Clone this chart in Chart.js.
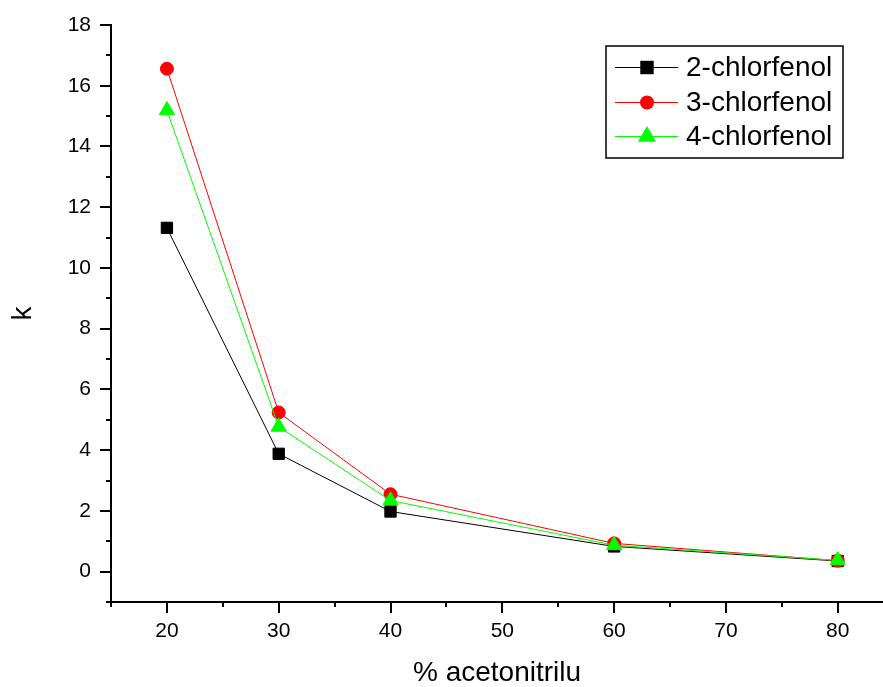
<!DOCTYPE html>
<html>
<head>
<meta charset="utf-8">
<script src="https://cdn.jsdelivr.net/npm/chart.js@4"></script>
<style>
  html, body { margin: 0; padding: 0; background: #fff; overflow: hidden; }
  #wrap { width: 883px; height: 687px; position: relative; }
</style>
</head>
<body>
<div id="wrap"><canvas id="chart"></canvas></div>
<script>
// ---- data ----
const xValues = [20, 30, 40, 60, 80];
const k2 = [11.32, 3.88, 1.98, 0.83, 0.35];
const k3 = [16.56, 5.24, 2.55, 0.93, 0.36];
const k4 = [15.19, 4.77, 2.34, 0.87, 0.37];
const seriesNames = ["2-chlorfenol", "3-chlorfenol", "4-chlorfenol"];
const xTickValues = [15, 20, 25, 30, 35, 40, 45, 50, 55, 60, 65, 70, 75, 80];

const FONT = 'Arial, "Liberation Sans", sans-serif';

function pts(ys) {
  return xValues.map((x, i) => ({ x: x, y: ys[i] }));
}

// no extra padding from tick labels, plot box is fixed
function noPad(scale) {
  scale.paddingTop = 0;
  scale.paddingBottom = 0;
  scale.paddingLeft = 0;
  scale.paddingRight = 0;
}

// ticks (major / minor) like the Origin plot
const tickPlugin = {
  id: "ticks",
  afterDraw(chart) {
    const ctx = chart.ctx;
    const xs = chart.scales.x, ys = chart.scales.y;
    const a = chart.chartArea;
    ctx.save();
    ctx.strokeStyle = "#000";
    ctx.lineWidth = 2;
    for (const t of xs.ticks) {
      const px = Math.round(xs.getPixelForValue(t.value));
      const len = t.value % 10 === 0 ? 11 : 5;
      ctx.beginPath();
      ctx.moveTo(px, a.bottom);
      ctx.lineTo(px, a.bottom + len);
      ctx.stroke();
    }
    for (const t of ys.ticks) {
      const py = Math.round(ys.getPixelForValue(t.value));
      const len = (t.value % 2 === 0) ? 11 : 5;
      ctx.beginPath();
      ctx.moveTo(a.left, py);
      ctx.lineTo(a.left - len, py);
      ctx.stroke();
    }
    ctx.restore();
  }
};

// legend box inside the plot, top right (markers a bit bigger than in the plot)
const legendPlugin = {
  id: "boxLegend",
  afterDraw(chart) {
    const ctx = chart.ctx;
    const bx = 606, by = 46, bw = 237, bh = 112;
    ctx.save();
    ctx.fillStyle = "#fff";
    ctx.fillRect(bx, by, bw, bh);
    ctx.strokeStyle = "#000";
    ctx.lineWidth = 1.5;
    ctx.strokeRect(bx, by, bw, bh);
    const rows = [67.5, 102.5, 136.5];
    const legendRadius = [9.5, 7, 10.5];
    [0, 1, 2].forEach((di, r) => {
      const ds = chart.data.datasets[di];
      const y = rows[r];
      ctx.strokeStyle = ds.borderColor;
      ctx.lineWidth = 1;
      ctx.beginPath();
      ctx.moveTo(615, y);
      ctx.lineTo(678, y);
      ctx.stroke();
      ctx.fillStyle = ds.pointBackgroundColor;
      ctx.strokeStyle = ds.pointBackgroundColor;
      Chart.helpers.drawPoint(ctx, {
        pointStyle: ds.pointStyle,
        radius: legendRadius[r],
        borderWidth: 0,
        rotation: 0
      }, 647, y);
      ctx.fillStyle = "#000";
      ctx.font = "28px " + FONT;
      ctx.textBaseline = "middle";
      ctx.textAlign = "left";
      ctx.fillText(ds.label, 686, y + 1);
    });
    ctx.restore();
  }
};

new Chart(document.getElementById("chart"), {
  type: "line",
  data: {
    datasets: [
      {
        label: seriesNames[0], data: pts(k2),
        borderColor: "#000000", pointBackgroundColor: "#000000", pointBorderColor: "#000000",
        pointStyle: "rect", pointRadius: 8, borderWidth: 1, order: 3
      },
      {
        label: seriesNames[1], data: pts(k3),
        borderColor: "#ff0000", pointBackgroundColor: "#ff0000", pointBorderColor: "#ff0000",
        pointStyle: "circle", pointRadius: 6.5, borderWidth: 1, order: 2
      },
      {
        label: seriesNames[2], data: pts(k4),
        borderColor: "#00ff00", pointBackgroundColor: "#00ff00", pointBorderColor: "#00ff00",
        pointStyle: "triangle", pointRadius: 8.8, borderWidth: 1, order: 1
      }
    ]
  },
  options: {
    responsive: true,
    maintainAspectRatio: false,
    animation: false,
    layout: { autoPadding: false, padding: { top: 25, right: 0, left: 0, bottom: 0 } },
    elements: {
      line: { tension: 0, fill: false },
      point: { borderWidth: 0, hoverRadius: 8 }
    },
    plugins: {
      legend: { display: false },
      tooltip: { enabled: false }
    },
    scales: {
      x: {
        type: "linear",
        bounds: "data",
        min: 15,
        max: 84.05,
        afterBuildTicks(scale) {
          scale.ticks = xTickValues.map(v => ({ value: v }));
        },
        afterFit(scale) { scale.height = 85; noPad(scale); },
        ticks: {
          autoSkip: false,
          maxRotation: 0,
          padding: 17,
          color: "#000",
          font: { family: FONT, size: 21 },
          callback: v => (v % 10 === 0 ? String(v) : "")
        },
        grid: { display: true, drawOnChartArea: false, drawTicks: false },
        border: { display: true, color: "#000", width: 2 },
        title: {
          display: true,
          text: "% acetonitrilu",
          color: "#000",
          font: { family: FONT, size: 28, lineHeight: 1 },
          padding: { top: 0, bottom: 0 }
        }
      },
      y: {
        type: "linear",
        min: -1,
        max: 18,
        afterFit(scale) { scale.width = 111; noPad(scale); },
        ticks: {
          stepSize: 1,
          autoSkip: false,
          padding: 20,
          color: "#000",
          font: { family: FONT, size: 21 },
          callback: v => (v >= 0 && v % 2 === 0 ? String(v) : "")
        },
        grid: { display: true, drawOnChartArea: false, drawTicks: false },
        border: { display: true, color: "#000", width: 2 },
        title: {
          display: true,
          text: "k",
          color: "#000",
          font: { family: FONT, size: 28, lineHeight: 1 },
          padding: { top: 9, bottom: 0 }
        }
      }
    }
  },
  plugins: [tickPlugin, legendPlugin]
});
</script>
</body>
</html>
